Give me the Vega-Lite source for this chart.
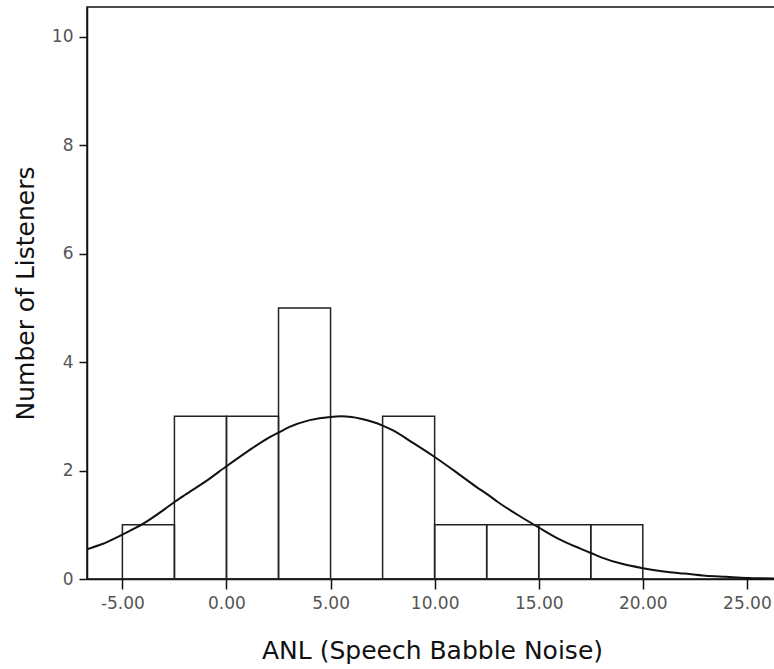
{
  "$schema": "https://vega.github.io/schema/vega-lite/v6.json",
  "width": 688,
  "height": 572,
  "autosize": {"type": "none"},
  "padding": {"left": 87, "top": 7, "right": 0, "bottom": 90},
  "background": "white",
  "config": {
    "view": {"stroke": "#111", "strokeWidth": 1.5},
    "font": "DejaVu Sans",
    "axis": {
      "grid": false,
      "domainColor": "#111",
      "domainWidth": 1.5,
      "tickColor": "#111",
      "tickWidth": 1.5,
      "labelFont": "DejaVu Sans",
      "labelFontSize": 17,
      "labelColor": "#555",
      "titleFont": "DejaVu Sans",
      "titleFontSize": 25,
      "titleFontWeight": "normal",
      "titleColor": "#111"
    }
  },
  "datasets": {
    "bins": [
      {"bin_start": -5, "bin_end": -2.5, "count": 1},
      {"bin_start": -2.5, "bin_end": 0, "count": 3},
      {"bin_start": 0, "bin_end": 2.5, "count": 3},
      {"bin_start": 2.5, "bin_end": 5, "count": 5},
      {"bin_start": 7.5, "bin_end": 10, "count": 3},
      {"bin_start": 10, "bin_end": 12.5, "count": 1},
      {"bin_start": 12.5, "bin_end": 15, "count": 1},
      {"bin_start": 15, "bin_end": 17.5, "count": 1},
      {"bin_start": 17.5, "bin_end": 20, "count": 1}
    ],
    "curve": [
      {"anl": -6.7, "listeners": 0.55},
      {"anl": -6, "listeners": 0.64},
      {"anl": -5, "listeners": 0.82},
      {"anl": -4, "listeners": 1.02},
      {"anl": -3, "listeners": 1.28},
      {"anl": -2.5, "listeners": 1.42},
      {"anl": -2, "listeners": 1.55},
      {"anl": -1, "listeners": 1.8},
      {"anl": 0, "listeners": 2.08},
      {"anl": 1, "listeners": 2.35},
      {"anl": 2, "listeners": 2.6},
      {"anl": 2.5, "listeners": 2.7},
      {"anl": 3, "listeners": 2.8},
      {"anl": 4, "listeners": 2.93},
      {"anl": 5, "listeners": 2.99},
      {"anl": 5.5, "listeners": 3.0},
      {"anl": 6, "listeners": 2.99},
      {"anl": 7, "listeners": 2.9},
      {"anl": 7.5, "listeners": 2.83},
      {"anl": 8, "listeners": 2.74},
      {"anl": 9, "listeners": 2.5},
      {"anl": 10, "listeners": 2.25},
      {"anl": 11, "listeners": 1.98},
      {"anl": 12, "listeners": 1.7},
      {"anl": 12.5, "listeners": 1.57},
      {"anl": 13, "listeners": 1.43},
      {"anl": 14, "listeners": 1.18},
      {"anl": 15, "listeners": 0.95},
      {"anl": 16, "listeners": 0.73},
      {"anl": 17, "listeners": 0.56},
      {"anl": 17.5, "listeners": 0.48},
      {"anl": 18, "listeners": 0.4},
      {"anl": 19, "listeners": 0.28},
      {"anl": 20, "listeners": 0.2},
      {"anl": 21, "listeners": 0.14},
      {"anl": 22, "listeners": 0.1},
      {"anl": 23, "listeners": 0.06},
      {"anl": 24, "listeners": 0.04},
      {"anl": 25, "listeners": 0.02},
      {"anl": 26.3, "listeners": 0.01}
    ]
  },
  "layer": [
    {
      "data": {"name": "bins"},
      "mark": {"type": "rect", "fill": "transparent", "stroke": "#222", "strokeWidth": 1.5},
      "encoding": {
        "x": {
          "field": "bin_start",
          "type": "quantitative",
          "scale": {"domain": [-6.7, 26.35], "nice": false, "zero": false},
          "axis": {
            "values": [-5, 0, 5, 10, 15, 20, 25],
            "labelExpr": "replace(format(datum.value, '.2f'), '\u2212', '-')",
            "tickSize": 10,
            "labelPadding": 6,
            "title": "ANL (Speech Babble Noise)",
            "titleX": 345,
            "titleY": 79,
            "titleBaseline": "alphabetic",
            "titleAnchor": "middle"
          }
        },
        "x2": {"field": "bin_end"},
        "y": {
          "field": "count",
          "type": "quantitative",
          "scale": {"domain": [0, 10.55], "nice": false},
          "axis": {
            "values": [0, 2, 4, 6, 8, 10],
            "format": "d",
            "tickSize": 8,
            "labelPadding": 6,
            "title": "Number of Listeners",
            "titleX": -54,
            "titleY": 286,
            "titleBaseline": "alphabetic",
            "titleAnchor": "middle"
          }
        },
        "y2": {"datum": 0}
      }
    },
    {
      "data": {"name": "curve"},
      "mark": {"type": "line", "color": "#111", "strokeWidth": 2, "interpolate": "monotone", "clip": true},
      "encoding": {
        "x": {"field": "anl", "type": "quantitative"},
        "y": {"field": "listeners", "type": "quantitative"}
      }
    }
  ]
}
